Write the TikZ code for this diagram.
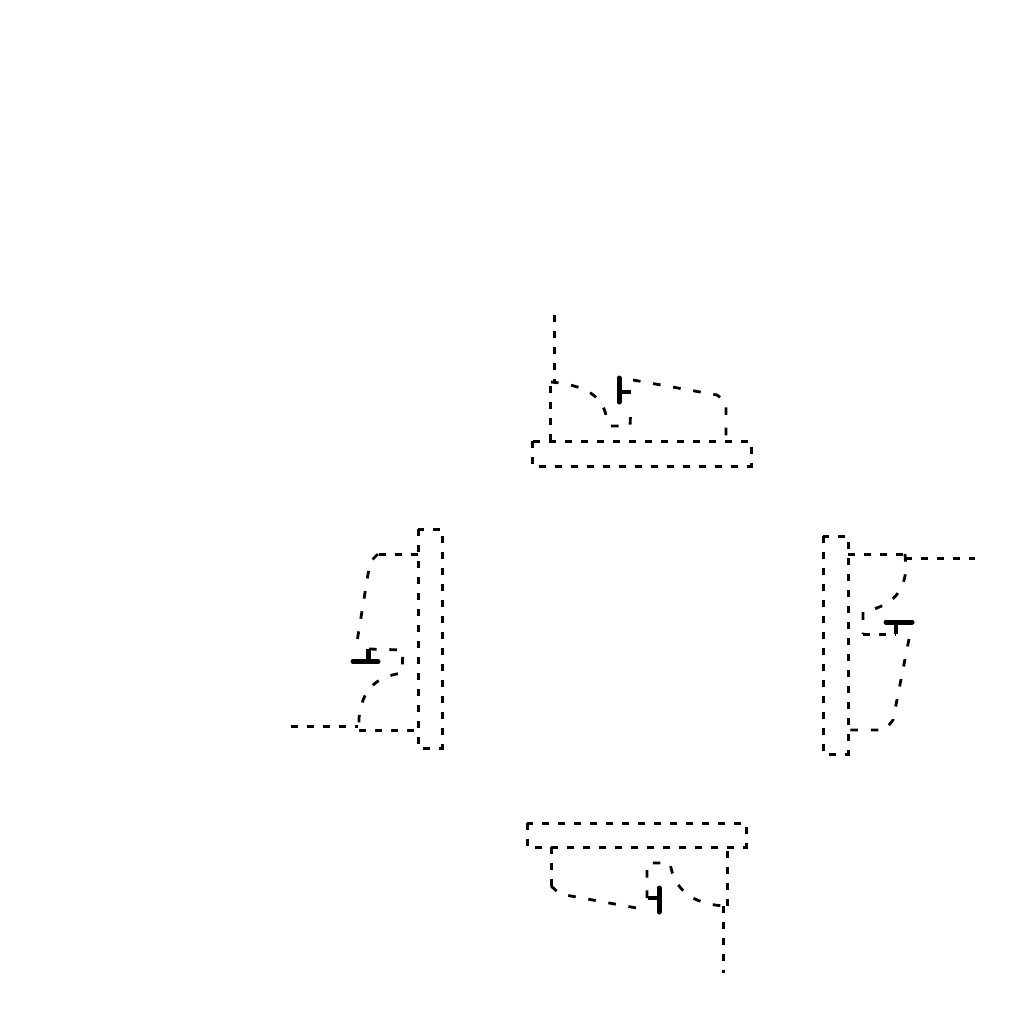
\documentclass[tikz,border=0pt]{standalone}
\tikzset{
  wire/.style={line width=1.5pt, dash pattern=on 3.3pt off 4.7pt},
  curvewire/.style={line width=1.4pt, dash pattern=on 3.8pt off 6.4pt},
  gatebar/.style={line width=2.5pt, line cap=round},
  gatestem/.style={line width=2.2pt}
}
\begin{document}
\begin{tikzpicture}[x=0.5pt,y=-0.5pt]
\useasboundingbox (0,0) rectangle (1024,1024);
% top
\draw[wire] (532,441) rectangle (751,466);
\draw[wire] (554.5,315) -- (554.5,382);
\draw[wire] (550,441) -- (550,383);
\draw[curvewire] (551,382) -- (560,383) .. controls (585,387) and (601,395) .. (606,415) -- (610,426) -- (630,426) -- (631,405);
\draw[gatestem] (631,392) -- (619,392);
\draw[gatebar] (619,378) -- (619,402);
\draw[curvewire] (633,380) -- (717,395) -- (726,402) -- (726,441);
% left
\draw[wire] (418,529) rectangle (442,748);
\draw[wire] (418,554) -- (378,554);
\draw[curvewire] (378,554) -- (370,562) -- (356,648);
\draw[gatebar] (353,661.5) -- (378,661.5);
\draw[gatestem] (368.5,661) -- (368.5,649);
\draw[curvewire] (369,649) -- (403,650) -- (402,673) .. controls (375,677) and (362,690) .. (359,718) -- (359,727);
\draw[wire] (359,730) -- (418,730);
\draw[wire] (291,726) -- (358,726);
% right
\draw[wire] (823,536) rectangle (848,754);
\draw[wire] (848,554) -- (905,554);
\draw[curvewire] (905,554) -- (906,570) .. controls (903,595) and (890,606) .. (863,612) -- (863,634);
\draw[wire] (863,634) -- (896,634);
\draw[gatebar] (886,622) -- (912,622);
\draw[gatestem] (896,622) -- (896,634);
\draw[curvewire] (909,639) -- (893,720) -- (885,730) -- (848,730);
\draw[wire] (905,558) -- (975,558);
% bottom
\draw[wire] (527,823) rectangle (746,847);
\draw[wire] (551,847) -- (551,886);
\draw[curvewire] (551,886) -- (560,894) -- (642,909);
\draw[gatebar] (659,888) -- (659,912);
\draw[gatestem] (659,898) -- (648,898);
\draw[curvewire] (647,898) -- (647,863) -- (670,863) .. controls (674,888) and (690,904) .. (725,906);
\draw[wire] (727,906) -- (727,847);
\draw[wire] (723,906) -- (723,973);
\end{tikzpicture}
\end{document}
